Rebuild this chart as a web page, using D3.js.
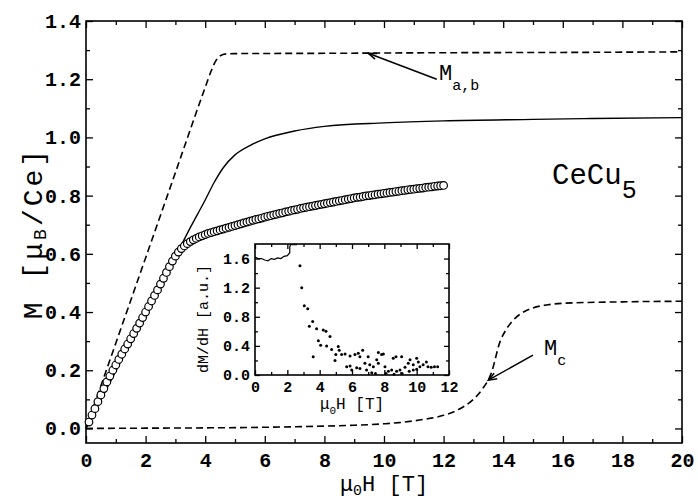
<!DOCTYPE html>
<meta charset="utf-8">
<script src="https://d3js.org/d3.v7.min.js"></script>
<body style="margin:0;background:#fff">
<div id="chart"></div>
<script>
// values
// M_a,b (dashed, top)
var mabH = [0, 1, 2, 3, 4, 4.2, 4.35, 4.5, 4.7, 5, 8, 12, 16, 20];
var mabM = [0, 0.293, 0.586, 0.879, 1.172, 1.228, 1.262, 1.28, 1.287, 1.288, 1.289, 1.291, 1.292, 1.294];
// calculated powder curve (solid)
var calcH = [0, 1, 2, 3, 3.5, 4, 4.3, 4.6, 5, 5.5, 6, 7, 8, 10, 12, 15, 17, 20];
var calcM = [0, 0.197, 0.394, 0.59, 0.69, 0.785, 0.845, 0.895, 0.94, 0.972, 0.995, 1.022, 1.038, 1.05, 1.057, 1.062, 1.065, 1.068];
// M_c (dashed, bottom)
var mcH = [0, 2, 4, 6, 8, 9, 10, 10.5, 11, 11.5, 12, 12.5, 13, 13.3, 13.6, 13.9, 14.1, 14.3, 14.6, 15, 15.5, 16, 18, 20];
var mcM = [0, 0.001, 0.002, 0.004, 0.008, 0.011, 0.016, 0.02, 0.026, 0.034, 0.045, 0.065, 0.1, 0.135, 0.19, 0.3, 0.34, 0.368, 0.395, 0.414, 0.425, 0.43, 0.435, 0.437];
// measured points (open circles)
var measH = [0.1, 0.2, 0.3, 0.4, 0.5, 0.6, 0.7, 0.8, 0.9, 1.0, 1.1, 1.2, 1.3, 1.4, 1.5, 1.6, 1.7, 1.8, 1.9, 2.0,
  2.1, 2.2, 2.3, 2.4, 2.5, 2.6, 2.7, 2.8, 2.9, 3.0, 3.1, 3.2, 3.3, 3.4, 3.5, 3.6, 3.7, 3.8, 3.9, 4.0,
  4.1, 4.2, 4.3, 4.4, 4.5, 4.6, 4.7, 4.8, 4.9, 5.0, 5.1, 5.2, 5.3, 5.4, 5.5, 5.6, 5.7, 5.8, 5.9, 6.0,
  6.1, 6.2, 6.3, 6.4, 6.5, 6.6, 6.7, 6.8, 6.9, 7.0, 7.1, 7.2, 7.3, 7.4, 7.5, 7.6, 7.7, 7.8, 7.9, 8.0,
  8.1, 8.2, 8.3, 8.4, 8.5, 8.6, 8.7, 8.8, 8.9, 9.0, 9.1, 9.2, 9.3, 9.4, 9.5, 9.6, 9.7, 9.8, 9.9, 10.0,
  10.1, 10.2, 10.3, 10.4, 10.5, 10.6, 10.7, 10.8, 10.9, 11.0, 11.1, 11.2, 11.3, 11.4, 11.5, 11.6, 11.7, 11.8, 11.9, 12.0];
var measM = [0.022, 0.046, 0.068, 0.092, 0.115, 0.137, 0.16, 0.18, 0.2, 0.218, 0.237, 0.255, 0.273, 0.29, 0.308, 0.326, 0.344, 0.362, 0.381, 0.4,
  0.419, 0.438, 0.457, 0.476, 0.496, 0.516, 0.536, 0.556, 0.575, 0.592, 0.606, 0.618, 0.627, 0.635, 0.642, 0.648, 0.653, 0.658, 0.662, 0.666,
  0.67, 0.673, 0.676, 0.679, 0.682, 0.685, 0.688, 0.691, 0.694, 0.697, 0.7, 0.703, 0.706, 0.709, 0.712, 0.715, 0.718, 0.72, 0.723, 0.726,
  0.729, 0.731, 0.734, 0.736, 0.739, 0.741, 0.744, 0.746, 0.749, 0.751, 0.753, 0.756, 0.758, 0.76, 0.762, 0.764, 0.766, 0.768, 0.77, 0.772,
  0.774, 0.776, 0.778, 0.78, 0.782, 0.784, 0.786, 0.788, 0.79, 0.792, 0.794, 0.795, 0.797, 0.799, 0.8, 0.802, 0.803, 0.805, 0.806, 0.808,
  0.809, 0.811, 0.812, 0.814, 0.815, 0.817, 0.818, 0.82, 0.821, 0.822, 0.824, 0.825, 0.826, 0.828, 0.829, 0.83, 0.832, 0.833, 0.834, 0.835];
// inset: dM/dH, low-field trace and scattered points
var lineH = [0, 0.2, 0.4, 0.6, 0.8, 1.0, 1.2, 1.4, 1.6, 1.8, 2.0, 2.15, 2.15, 2.2, 2.6];
var lineD = [1.62, 1.6, 1.6, 1.58, 1.57, 1.6, 1.59, 1.61, 1.6, 1.63, 1.64, 1.68, 1.76, 1.79, 1.79];
var dotH = [2.78, 2.89, 3.05, 3.26, 3.57, 3.36, 3.81, 4.22, 4.39, 3.92, 4.06, 3.6, 4.64, 4.43, 4.74, 5.15, 5.21, 5.0, 5.36, 4.95,
  5.57, 5.88, 6.18, 6.39, 6.66, 6.49, 5.67, 5.88, 5.98, 6.29, 6.49, 6.8, 7.0, 7.1, 7.32, 6.9, 7.22, 7.63, 7.83, 7.94,
  7.53, 7.63, 8.04, 8.25, 8.45, 8.55, 8.72, 8.76, 8.97, 9.07, 9.28, 9.48, 9.59, 9.79, 10.0, 10.1, 10.2, 10.4, 10.6, 9.54,
  9.79, 10.0, 10.7, 10.9, 11.1, 11.3, 7.45, 8.1, 8.6, 9.1];
var dotD = [1.5, 1.2, 0.95, 0.91, 0.735, 0.67, 0.635, 0.62, 0.6, 0.47, 0.41, 0.25, 0.53, 0.4, 0.35, 0.39, 0.34, 0.28, 0.28, 0.2,
  0.29, 0.26, 0.28, 0.3, 0.34, 0.25, 0.115, 0.125, 0.07, 0.1, 0.09, 0.16, 0.25, 0.14, 0.115, 0.07, 0.03, 0.31, 0.28, 0.29,
  0.21, 0.16, 0.115, 0.05, 0.07, 0.23, 0.25, 0.05, 0.07, 0.25, 0.105, 0.16, 0.21, 0.14, 0.23, 0.18, 0.115, 0.14, 0.18, 0.05,
  0.07, 0.08, 0.115, 0.105, 0.115, 0.115, 0.02, 0.02, 0.01, 0.02];
// ticks
var xMajor = [0, 2, 4, 6, 8, 10, 12, 14, 16, 18, 20];
var xMinor = [1, 3, 5, 7, 9, 11, 13, 15, 17, 19];
var yMajor = [0, 0.2, 0.4, 0.6, 0.8, 1.0, 1.2, 1.4];
var yMinor = [0.1, 0.3, 0.5, 0.7, 0.9, 1.1, 1.3];
var ixMajor = [0, 2, 4, 6, 8, 10, 12];
var ixMinor = [1, 3, 5, 7, 9, 11];
var iyMajor = [0, 0.4, 0.8, 1.2, 1.6];
var iyMinor = [0.2, 0.6, 1.0, 1.4];

var width = 698, height = 502;
var svg = d3.select("#chart").append("svg")
    .attr("width", width)
    .attr("height", height)
    .style("font-family", "'Liberation Mono', monospace");

var x = d3.scaleLinear().domain([0, 20]).range([86, 682]);
var y = d3.scaleLinear().domain([-0.05, 1.4]).range([443, 21]);

// frame with inward ticks on all four sides
function frame(xs, ys, xMaj, xMin, yMaj, yMin, big, small, fontSize, xfmt, yfmt, padX, padY) {
    var g = svg.append("g");
    var x0 = xs.range()[0], x1 = xs.range()[1], y0 = ys.range()[0], y1 = ys.range()[1];
    g.append("rect").attr("x", x0).attr("y", y1).attr("width", x1 - x0).attr("height", y0 - y1)
        .attr("fill", "#fff").attr("stroke", "#000").attr("stroke-width", 1.6);
    g.append("g").attr("transform", "translate(0," + y0 + ")")
        .call(d3.axisBottom(xs).tickValues(xMaj).tickFormat(xfmt).tickSizeInner(-big).tickSizeOuter(0).tickPadding(padX));
    g.append("g").attr("transform", "translate(0," + y0 + ")")
        .call(d3.axisBottom(xs).tickValues(xMin).tickFormat("").tickSizeInner(-small).tickSizeOuter(0));
    g.append("g").attr("transform", "translate(0," + y1 + ")")
        .call(d3.axisTop(xs).tickValues(xMaj).tickFormat("").tickSizeInner(-big).tickSizeOuter(0));
    g.append("g").attr("transform", "translate(0," + y1 + ")")
        .call(d3.axisTop(xs).tickValues(xMin).tickFormat("").tickSizeInner(-small).tickSizeOuter(0));
    g.append("g").attr("transform", "translate(" + x0 + ",0)")
        .call(d3.axisLeft(ys).tickValues(yMaj).tickFormat(yfmt).tickSizeInner(-big).tickSizeOuter(0).tickPadding(padY));
    g.append("g").attr("transform", "translate(" + x0 + ",0)")
        .call(d3.axisLeft(ys).tickValues(yMin).tickFormat("").tickSizeInner(-small).tickSizeOuter(0));
    g.append("g").attr("transform", "translate(" + x1 + ",0)")
        .call(d3.axisRight(ys).tickValues(yMaj).tickFormat("").tickSizeInner(-big).tickSizeOuter(0));
    g.append("g").attr("transform", "translate(" + x1 + ",0)")
        .call(d3.axisRight(ys).tickValues(yMin).tickFormat("").tickSizeInner(-small).tickSizeOuter(0));
    g.selectAll(".domain").remove();
    g.selectAll(".tick line").attr("stroke", "#000").attr("stroke-width", 1.3);
    g.selectAll(".tick text").attr("fill", "#000")
        .style("font-family", "'Liberation Mono', monospace")
        .style("font-weight", "bold").style("font-size", fontSize + "px");
    return g;
}

frame(x, y, xMajor, xMinor, yMajor, yMinor, 7, 4, 20, d3.format("d"), d3.format(".1f"), 10, 5);

var line = d3.line().x(function(d) { return x(d[0]); }).y(function(d) { return y(d[1]); });

// M_a,b dashed
svg.append("path").datum(d3.zip(mabH, mabM))
    .attr("d", line.curve(d3.curveMonotoneX))
    .attr("fill", "none").attr("stroke", "#000").attr("stroke-width", 1.6)
    .attr("stroke-dasharray", "7,4");
// calc solid
svg.append("path").datum(d3.zip(calcH, calcM))
    .attr("d", line.curve(d3.curveMonotoneX))
    .attr("fill", "none").attr("stroke", "#000").attr("stroke-width", 1.4);
// M_c dashed
svg.append("path").datum(d3.zip(mcH, mcM))
    .attr("d", line.curve(d3.curveMonotoneX))
    .attr("fill", "none").attr("stroke", "#000").attr("stroke-width", 1.6)
    .attr("stroke-dasharray", "7,4");

// measured points
svg.append("g").selectAll("circle")
    .data(d3.zip(measH, measM))
    .enter().append("circle")
    .attr("cx", function(d) { return x(d[0]); })
    .attr("cy", function(d) { return y(d[1]); })
    .attr("r", 3.8)
    .attr("fill", "#fff").attr("stroke", "#000").attr("stroke-width", 1.2);

// arrows
function arrow(from, to) {
    var x1 = x(from[0]), y1 = y(from[1]), x2 = x(to[0]), y2 = y(to[1]);
    var a = Math.atan2(y1 - y2, x1 - x2), L = 9, s = 0.35;
    svg.append("line").attr("x1", x1).attr("y1", y1).attr("x2", x2).attr("y2", y2)
        .attr("stroke", "#000").attr("stroke-width", 1.5);
    svg.append("path")
        .attr("d", "M" + (x2 + L * Math.cos(a + s)) + "," + (y2 + L * Math.sin(a + s)) +
            "L" + x2 + "," + y2 +
            "L" + (x2 + L * Math.cos(a - s)) + "," + (y2 + L * Math.sin(a - s)))
        .attr("fill", "none").attr("stroke", "#000").attr("stroke-width", 1.5);
}
arrow([11.77, 1.2], [9.47, 1.289]);
arrow([15.0, 0.252], [13.5, 0.166]);

// labels
function subLabel(px, py, main, sub, size, subSize, shift) {
    var t = svg.append("text").attr("x", px).attr("y", py)
        .style("font-size", size + "px").attr("fill", "#000");
    t.append("tspan").text(main);
    t.append("tspan").attr("dy", shift).style("font-size", subSize + "px").text(sub);
    return t;
}
subLabel(439, 80, "M", "a,b", 22, 15, 10);
subLabel(544, 355, "M", "c", 22, 15, 10);
subLabel(552, 184, "CeCu", "5", 29, 25, 14);

// axis titles
var xt = svg.append("text").attr("x", 384).attr("y", 491).attr("text-anchor", "middle")
    .style("font-size", "22px").attr("fill", "#000");
xt.append("tspan").text("μ");
xt.append("tspan").attr("dy", 4).style("font-size", "15px").text("0");
xt.append("tspan").attr("dy", -4).text("H [T]");

var yt = svg.append("text").attr("transform", "translate(42,233) rotate(-90)")
    .attr("text-anchor", "middle").style("font-size", "28px").style("letter-spacing", "3px")
    .attr("fill", "#000");
yt.append("tspan").text("M [μ");
yt.append("tspan").attr("dy", 4).style("font-size", "18px").text("B");
yt.append("tspan").attr("dy", -4).text("/Ce]");

// inset
var ix = d3.scaleLinear().domain([0, 12]).range([255, 449]);
var iy = d3.scaleLinear().domain([0, 1.8]).range([375, 244]);
frame(ix, iy, ixMajor, ixMinor, iyMajor, iyMinor, 5, 3, 15, d3.format("d"), d3.format(".1f"), 6, 5);

svg.append("path").datum(d3.zip(lineH, lineD))
    .attr("d", d3.line().x(function(d) { return ix(d[0]); }).y(function(d) { return iy(d[1]); }))
    .attr("fill", "none").attr("stroke", "#000").attr("stroke-width", 1.2);
svg.append("g").selectAll("circle")
    .data(d3.zip(dotH, dotD))
    .enter().append("circle")
    .attr("cx", function(d) { return ix(d[0]); })
    .attr("cy", function(d) { return iy(d[1]); })
    .attr("r", 1.5).attr("fill", "#000");

var ixt = svg.append("text").attr("x", 352).attr("y", 409).attr("text-anchor", "middle")
    .style("font-size", "16px").attr("fill", "#000");
ixt.append("tspan").text("μ");
ixt.append("tspan").attr("dy", 5).style("font-size", "11px").text("0");
ixt.append("tspan").attr("dy", -5).text("H [T]");

svg.append("text").attr("transform", "translate(208,319) rotate(-90)")
    .attr("text-anchor", "middle").style("font-size", "15px").attr("fill", "#000")
    .text("dM/dH [a.u.]");
</script>
</body>
